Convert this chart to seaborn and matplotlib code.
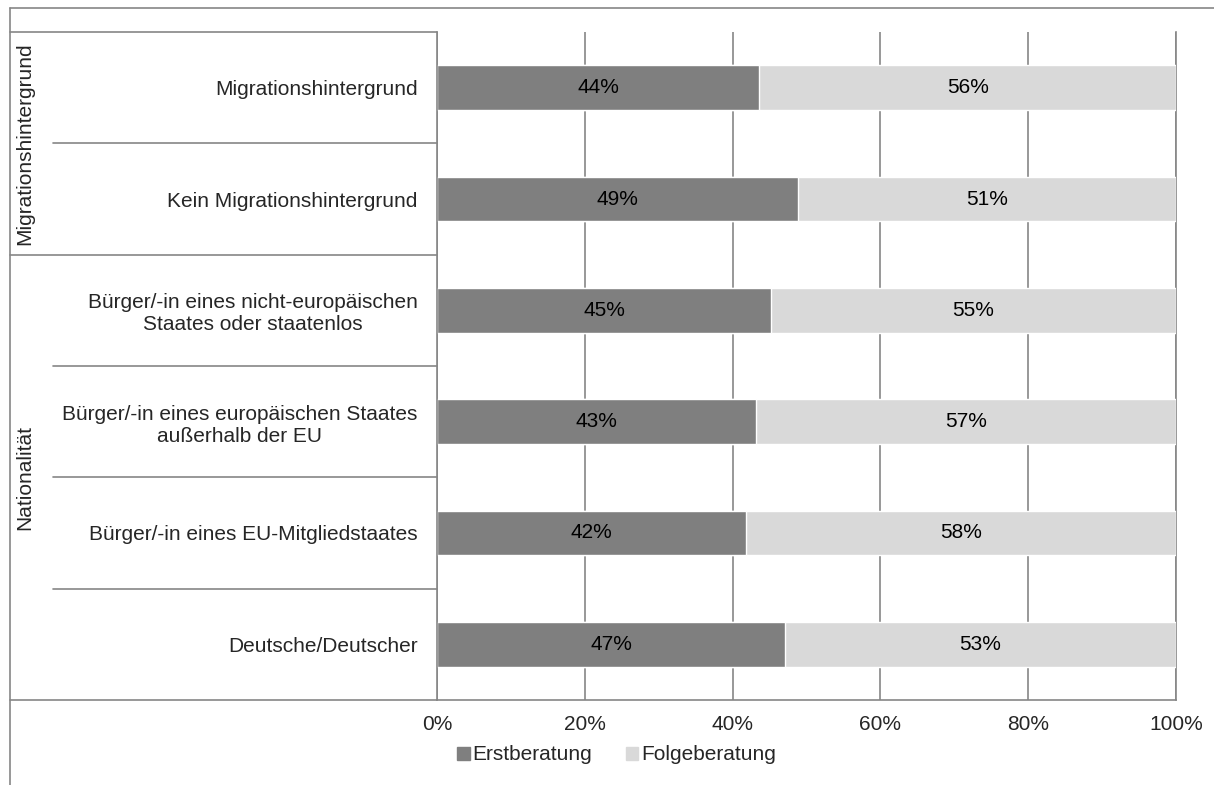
import matplotlib
matplotlib.use("Agg")
import matplotlib.pyplot as plt
import matplotlib.transforms as mtransforms
from matplotlib.lines import Line2D
from matplotlib.patches import Patch
import seaborn as sns
import pandas as pd

# Daten
kategorien = [
    "Migrationshintergrund",
    "Kein Migrationshintergrund",
    "Bürger/-in eines nicht-europäischen\nStaates oder staatenlos",
    "Bürger/-in eines europäischen Staates\naußerhalb der EU",
    "Bürger/-in eines EU-Mitgliedstaates",
    "Deutsche/Deutscher",
]
erstberatung = [43.6, 48.8, 45.2, 43.1, 41.8, 47.1]
folgeberatung = [56.4, 51.2, 54.8, 56.9, 58.2, 52.9]
gruppen = ["Migrationshintergrund", "Nationalität"]
gruppen_zeilen = [(0, 1), (2, 5)]
x_ticks = [0, 20, 40, 60, 80, 100]

df = pd.DataFrame({"Kategorie": kategorien,
                   "Erst": erstberatung,
                   "Folge": folgeberatung})
df["Gesamt"] = df["Erst"] + df["Folge"]

sns.set_style("white")
plt.rcParams["font.family"] = ["Liberation Sans", "DejaVu Sans"]
FS = 15
grau = "#868686"
dunkel = "#7f7f7f"
hell = "#d9d9d9"

W, H = 1214, 785
fig = plt.figure(figsize=(W / 100, H / 100), dpi=100)
ax = fig.add_axes([437 / W, 1 - 700 / H, (1176 - 437) / W, (700 - 32) / H])

# Gestapelte Balken: erst Gesamt (hell), dann Erstberatung (dunkel)
sns.barplot(data=df, y="Kategorie", x="Gesamt", color=hell, width=0.4,
            saturation=1, ax=ax, orient="h")
sns.barplot(data=df, y="Kategorie", x="Erst", color=dunkel, width=0.4,
            saturation=1, ax=ax, orient="h")

for i, (e, f) in enumerate(zip(erstberatung, folgeberatung)):
    ax.text(e / 2, i, f"{e:.0f}%", ha="center", va="center", fontsize=FS, color="black")
    ax.text(e + f / 2, i, f"{f:.0f}%", ha="center", va="center", fontsize=FS, color="black")

ax.set_xlim(0, 100)
ax.set_ylim(len(kategorien) - 0.5, -0.5)
ax.set_xticks(x_ticks)
ax.set_xticklabels([f"{t}%" for t in x_ticks], fontsize=FS)
ax.set_xlabel("")
ax.set_ylabel("")
ax.tick_params(axis="x", length=5, width=1, color=grau, pad=6)
ax.tick_params(axis="y", length=0, pad=14)
for lab in ax.get_yticklabels():
    lab.set_fontsize(FS)
    lab.set_multialignment("center")

ax.xaxis.grid(True, color=grau, linewidth=1.2)
ax.set_axisbelow(True)
ax.spines["top"].set_visible(False)
for s in ["left", "bottom", "right"]:
    ax.spines[s].set_color(grau)
    ax.spines[s].set_linewidth(1.2)
ax.spines["right"].set_zorder(0.5)

# Tabelle links
trans = mtransforms.blended_transform_factory(fig.transFigure, ax.transData)
x_aussen = 10 / W
x_innen = 53 / W
x_achse = 437 / W
grenzen_gruppe = [-0.5, 1.5, len(kategorien) - 0.5]
for y in grenzen_gruppe:
    ax.add_line(Line2D([x_aussen, x_achse], [y, y], transform=trans,
                       color=grau, lw=1.2, clip_on=False))
for y in [0.5, 2.5, 3.5, 4.5]:
    ax.add_line(Line2D([x_innen, x_achse], [y, y], transform=trans,
                       color=grau, lw=1.2, clip_on=False))
for name, (a, b) in zip(gruppen, gruppen_zeilen):
    ax.text(25 / W, (a + b) / 2, name, transform=trans, rotation=90,
            ha="center", va="center", fontsize=FS)

# Rahmen
fig.add_artist(Line2D([10 / W, 1], [1 - 8 / H, 1 - 8 / H], color=grau, lw=1.2))
fig.add_artist(Line2D([10 / W, 10 / W], [0, 1 - 8 / H], color=grau, lw=1.2))

# Legende
handles = [Patch(color=dunkel, label="Erstberatung"),
           Patch(color=hell, label="Folgeberatung")]
fig.legend(handles=handles, loc="center", bbox_to_anchor=(0.508, 1 - 755 / H),
           ncol=2, frameon=False, fontsize=FS, handlelength=0.6,
           handleheight=0.6, handletextpad=0.15, columnspacing=1.6)

fig.savefig("out.png", dpi=100, facecolor="white")
